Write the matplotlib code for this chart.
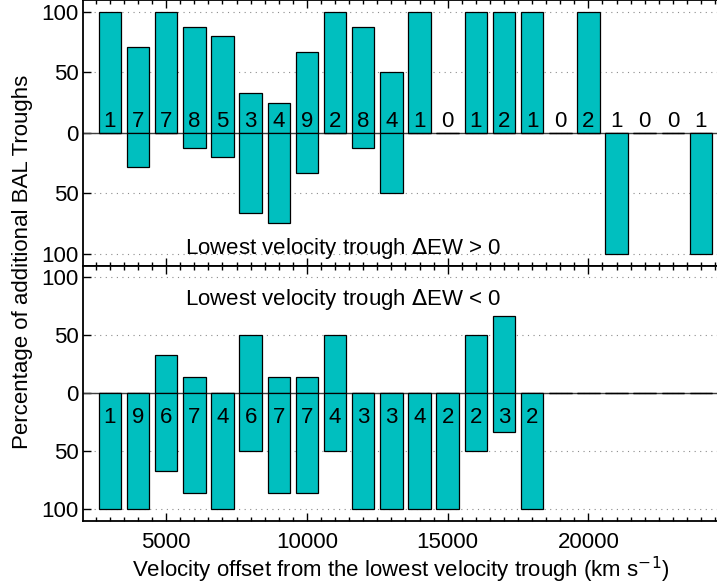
import matplotlib
matplotlib.use("Agg")
import matplotlib.pyplot as plt
from matplotlib.ticker import MultipleLocator, FuncFormatter

plt.rcParams["font.family"] = ["Liberation Sans", "DejaVu Sans"]

# velocity offset bins (km/s)
velocity = [3000, 4000, 5000, 6000, 7000, 8000, 9000, 10000, 11000, 12000, 13000,
            14000, 15000, 16000, 17000, 18000, 19000, 20000, 21000, 22000, 23000, 24000]

# lowest velocity trough dEW > 0
pos_up = [100, 71.4, 100, 87.5, 80, 33.3, 25, 66.7, 100, 87.5, 50,
          100, 0, 100, 100, 100, 0, 100, 0, 0, 0, 0]
pos_down = [0, 28.6, 0, 12.5, 20, 66.7, 75, 33.3, 0, 12.5, 50,
            0, 0, 0, 0, 0, 0, 0, 100, 0, 0, 100]
pos_n = [1, 7, 7, 8, 5, 3, 4, 9, 2, 8, 4, 1, 0, 1, 2, 1, 0, 2, 1, 0, 0, 1]

# lowest velocity trough dEW < 0
neg_up = [0, 0, 33.3, 14.3, 0, 50, 14.3, 14.3, 50, 0, 0,
          0, 0, 50, 66.7, 0, 0, 0, 0, 0, 0, 0]
neg_down = [100, 100, 66.7, 85.7, 100, 50, 85.7, 85.7, 50, 100, 100,
            100, 100, 50, 33.3, 100, 0, 0, 0, 0, 0, 0]
neg_n = [1, 9, 6, 7, 4, 6, 7, 7, 4, 3, 3, 4, 2, 2, 3, 2, None, None, None, None, None, None]

BAR = "#00BFBF"
FS = 16

fig = plt.figure(figsize=(7.17, 5.86), dpi=100)
ax1 = fig.add_axes([0.1158, 0.5466, 0.8866, 0.4534])
ax2 = fig.add_axes([0.1158, 0.1109, 0.8866, 0.4357])


def style(ax):
    ax.set_xlim(2045, 24630)
    ax.set_ylim(-110, 110)
    ax.axhline(0, color="0.25", lw=1.0, zorder=1)
    ax.set_yticks([-100, -50, 0, 50, 100])
    ax.yaxis.set_major_formatter(FuncFormatter(lambda v, p: f"{abs(v):.0f}"))
    ax.xaxis.set_major_locator(MultipleLocator(5000))
    ax.xaxis.set_minor_locator(MultipleLocator(500))
    ax.tick_params(which="both", direction="in", top=True, right=False, labelsize=FS, width=1)
    ax.tick_params(which="major", length=6, pad=3)
    ax.tick_params(which="minor", length=3)
    ax.tick_params(axis="x", which="major", pad=8)
    for s in ax.spines.values():
        s.set_linewidth(1.3)
    ax.yaxis.grid(True, linestyle=(0, (1, 4)), color="0.55", lw=0.8)
    ax.set_axisbelow(True)


for ax, up, down in [(ax1, pos_up, pos_down), (ax2, neg_up, neg_down)]:
    style(ax)
    ax.bar(velocity, up, width=800, color=BAR, edgecolor="black", linewidth=0.9, zorder=2)
    ax.bar(velocity, [-d for d in down], width=800, color=BAR, edgecolor="black",
           linewidth=0.9, zorder=2)

for v, n in zip(velocity, pos_n):
    ax1.text(v, 9.5, str(n), ha="center", va="center", fontsize=FS, zorder=3)
for v, n in zip(velocity, neg_n):
    if n is not None:
        ax2.text(v, -21, str(n), ha="center", va="center", fontsize=FS, zorder=3)

ax1.tick_params(labelbottom=False)
ax1.text(5680, -95.7, r"Lowest velocity trough $\Delta$EW > 0", fontsize=FS, va="center")
ax2.text(5680, 80.8, r"Lowest velocity trough $\Delta$EW < 0", fontsize=FS, va="center")

ax2.set_xlabel(r"Velocity offset from the lowest velocity trough (km s$^{-1}$)", fontsize=FS, labelpad=1)
fig.text(0.0307, 0.553, "Percentage of additional BAL Troughs", rotation=90,
         ha="center", va="center", fontsize=FS)

fig.savefig("out.png", dpi=100)
